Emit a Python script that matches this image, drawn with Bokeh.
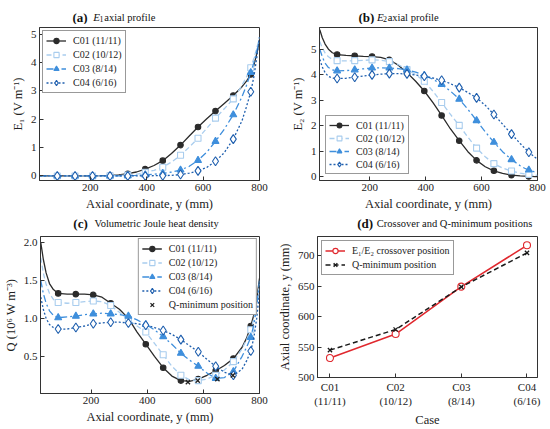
from bokeh.plotting import figure
from bokeh.models import Label, Legend, LegendItem, FixedTicker, Range1d
from bokeh.layouts import column, row
from bokeh.embed import file_html
from bokeh.resources import INLINE

SERIF = "Liberation Serif"

# ---------------- data ----------------
Y_LINE = [21, 30, 40, 52, 66, 83, 115, 146, 177, 208, 239, 270, 301, 333, 364, 395,
          426, 457, 488, 520, 551, 582, 613, 644, 675, 707, 738, 754, 769, 780, 790, 800]
Y_MARK = [83, 146, 208, 270, 333, 395, 457, 520, 582, 644, 707, 769]

CASES = ["C01 (11/11)", "C02 (10/12)", "C03 (8/14)", "C04 (6/16)"]

E1_C01 = [0, 0, 0, 0, 0, 0, 0, 0, 0, 0, 0.01, 0.02, 0.04, 0.08, 0.14, 0.24,
          0.37, 0.54, 0.79, 1.09, 1.41, 1.73, 2.02, 2.29, 2.56, 2.84, 3.15, 3.35, 3.58, 3.9, 4.3, 4.8]
E1_C02 = [0, 0, 0, 0, 0, 0, 0, 0, 0, 0, 0, 0.01, 0.02, 0.03, 0.06, 0.13,
          0.2, 0.31, 0.49, 0.73, 1.02, 1.33, 1.68, 2.04, 2.37, 2.72, 3.2, 3.5, 3.82, 4.15, 4.5, 4.9]
E1_C03 = [0, 0, 0, 0, 0, 0, 0, 0, 0, 0, 0, 0, 0, 0.01, 0.02, 0.04,
          0.06, 0.09, 0.14, 0.21, 0.34, 0.55, 0.84, 1.22, 1.65, 2.16, 2.8, 3.2, 3.65, 4.0, 4.4, 4.8]
E1_C04 = [0, 0, 0, 0, 0, 0, 0, 0, 0, 0, 0, 0, 0, 0, 0, 0,
          0.01, 0.01, 0.02, 0.05, 0.1, 0.18, 0.3, 0.52, 0.82, 1.3, 1.95, 2.45, 2.97, 3.5, 4.15, 4.9]

E2_C01 = [5.76, 5.45, 5.2, 5.0, 4.86, 4.79, 4.76, 4.74, 4.72, 4.71, 4.68, 4.58, 4.38, 4.08, 3.74, 3.36,
          2.9, 2.4, 1.88, 1.41, 0.98, 0.64, 0.39, 0.23, 0.13, 0.06, 0.03, 0.02, 0.01, 0.01, 0.0, 0.0]
E2_C02 = [5.3, 5.05, 4.85, 4.7, 4.6, 4.55, 4.54, 4.55, 4.56, 4.58, 4.57, 4.51, 4.4, 4.2, 4.0, 3.74,
          3.35, 2.91, 2.45, 2.01, 1.55, 1.12, 0.78, 0.51, 0.34, 0.22, 0.14, 0.11, 0.09, 0.07, 0.06, 0.05]
E2_C03 = [5.0, 4.7, 4.45, 4.28, 4.19, 4.15, 4.16, 4.19, 4.23, 4.26, 4.27, 4.26, 4.24, 4.19, 4.1, 3.97,
          3.82, 3.62, 3.36, 3.04, 2.64, 2.2, 1.76, 1.35, 0.98, 0.67, 0.43, 0.33, 0.26, 0.22, 0.19, 0.17]
E2_C04 = [4.6, 4.3, 4.08, 3.93, 3.87, 3.85, 3.86, 3.9, 3.95, 3.99, 4.02, 4.04, 4.04, 4.03, 3.99, 3.94,
          3.87, 3.78, 3.65, 3.49, 3.3, 3.09, 2.8, 2.44, 2.06, 1.67, 1.3, 1.12, 0.96, 0.86, 0.77, 0.69]

Q_C01 = [2.0, 1.78, 1.6, 1.46, 1.38, 1.33, 1.32, 1.32, 1.32, 1.31, 1.28, 1.2, 1.12, 1.0, 0.82, 0.66,
         0.5, 0.35, 0.24, 0.18, 0.17, 0.2, 0.25, 0.31, 0.38, 0.47, 0.62, 0.74, 0.9, 1.05, 1.25, 1.53]
Q_C02 = [1.8, 1.6, 1.45, 1.33, 1.25, 1.21, 1.2, 1.21, 1.22, 1.23, 1.22, 1.17, 1.08, 0.98, 0.9, 0.82,
         0.67, 0.52, 0.37, 0.25, 0.19, 0.18, 0.2, 0.25, 0.32, 0.43, 0.6, 0.72, 0.85, 1.0, 1.2, 1.45]
Q_C03 = [1.5, 1.33, 1.2, 1.1, 1.04, 1.01, 1.02, 1.03, 1.05, 1.06, 1.07, 1.06, 1.05, 1.03, 0.98, 0.92,
         0.85, 0.76, 0.66, 0.54, 0.45, 0.37, 0.28, 0.21, 0.22, 0.3, 0.5, 0.62, 0.75, 0.92, 1.15, 1.5]
Q_C04 = [1.28, 1.12, 1.0, 0.92, 0.88, 0.86, 0.86, 0.88, 0.9, 0.93, 0.94, 0.95, 0.95, 0.94, 0.93, 0.91,
         0.88, 0.84, 0.79, 0.72, 0.64, 0.56, 0.46, 0.37, 0.29, 0.25, 0.33, 0.44, 0.57, 0.75, 1.0, 1.35]

QMIN_Y = [545, 580, 650, 705]
QMIN_Q = [0.16, 0.18, 0.20, 0.25]

CASE_POS = [0, 1, 2, 3]
CASE_TICKS = ["C01\n(11/11)", "C02\n(10/12)", "C03\n(8/14)", "C04\n(6/16)"]
CROSSOVER = [532, 571.5, 649.5, 717.5]
QMIN_POS = [545, 579, 649, 705]

STYLES = [
    dict(color="#2b2b2b", dash="solid", marker="circle", size=5.5, fill="#2b2b2b"),
    dict(color="#a9cdee", dash="5 3", marker="square", size=6, fill="white"),
    dict(color="#3f8fdc", dash="7 3 2 3", marker="triangle", size=7, fill="#3f8fdc"),
    dict(color="#1f5fae", dash="2 2", marker="diamond", size=9, fill="white"),
]

AX = "#333333"


def make_fig(w, h, bl, br, bt, bb, xr, yr):
    p = figure(width=w, height=h, x_range=Range1d(*xr), y_range=Range1d(*yr),
               output_backend="svg", toolbar_location=None,
               min_border_left=bl, min_border_right=br, min_border_top=bt, min_border_bottom=bb)
    p.xgrid.visible = False
    p.ygrid.visible = False
    p.outline_line_color = AX
    p.outline_line_alpha = 1
    p.outline_line_width = 1
    for ax in (p.xaxis[0], p.yaxis[0]):
        ax.axis_line_color = AX
        ax.major_tick_line_color = AX
        ax.major_tick_in = 4
        ax.major_tick_out = 0
        ax.minor_tick_line_color = None
        ax.major_label_text_font = SERIF
        ax.major_label_text_font_size = "11px"
        ax.major_label_text_color = "#222222"
        ax.major_label_standoff = 3
        ax.axis_label_text_font = SERIF
        ax.axis_label_text_font_size = "12.5px"
        ax.axis_label_text_font_style = "normal"
        ax.axis_label_text_color = "#222222"
        ax.axis_label_standoff = 3
    return p


def title_strip(w, h, parts):
    """A thin figure holding the panel heading; x/y in pixels from its bottom-left."""
    s = figure(width=w, height=h, x_range=Range1d(0, w), y_range=Range1d(0, h),
               output_backend="svg", toolbar_location=None, title=None,
               x_axis_type=None, y_axis_type=None,
               min_border_left=0, min_border_right=0, min_border_top=0, min_border_bottom=0)
    s.xgrid.visible = False
    s.ygrid.visible = False
    s.outline_line_color = None
    for (txt, x, y, size, style) in parts:
        s.add_layout(Label(x=x, y=y, text=txt, text_font=SERIF, text_font_size=size,
                           text_font_style=style, text_color="#111111", text_baseline="alphabetic"))
    return s


def add_series(p, ys, st):
    lr = p.line(Y_LINE, ys, line_color=st["color"], line_width=1.3, line_dash=st["dash"])
    mx = [x for x in Y_LINE if x in Y_MARK]
    my = [v for x, v in zip(Y_LINE, ys) if x in Y_MARK]
    sr = p.scatter(mx, my, marker=st["marker"], size=st["size"], line_color=st["color"],
                   fill_color=st["fill"], line_width=1.1)
    return [lr, sr]


def make_legend(items, loc, margin, lh=13):
    lg = Legend(items=items, location=loc)
    lg.border_line_color = AX
    lg.border_line_width = 1
    lg.background_fill_color = "white"
    lg.background_fill_alpha = 1
    lg.label_text_font = SERIF
    lg.label_text_font_size = "10px"
    lg.label_text_color = "#222222"
    lg.label_height = lh
    lg.glyph_height = lh
    lg.glyph_width = 20
    lg.spacing = 1
    lg.padding = 3
    lg.label_standoff = 7
    lg.margin = margin
    return lg


XR = (20, 800)
XTICKS = [200, 400, 600, 800]

# ---------------- (a) ----------------
pa = make_fig(270, 189, 39, 11, 3, 30, XR, (-0.16, 5.24))
pa.xaxis.ticker = FixedTicker(ticks=XTICKS)
pa.yaxis.ticker = FixedTicker(ticks=[0, 1, 2, 3, 4, 5])
pa.xaxis.axis_label = "Axial coordinate, y (mm)"
pa.yaxis.axis_label = "E\u2081 (V m\u207b\u00b9)"
items = []
for name, ys, st in zip(CASES, [E1_C01, E1_C02, E1_C03, E1_C04], STYLES):
    items.append(LegendItem(label=name, renderers=add_series(pa, ys, st)))
pa.add_layout(make_legend(items, "top_left", 3))
sa = title_strip(270, 24, [("(a)", 40.5, 7.5, "13px", "bold"),
                           ("E", 66, 7.5, "11px", "italic"),
                           ("1", 73.5, 5.5, "8px", "normal"),
                           ("axial profile", 79.5, 7.5, "10.5px", "normal")])

# ---------------- (b) ----------------
pb = make_fig(280, 189, 49, 13, 3, 30, XR, (-0.15, 5.85))
pb.xaxis.ticker = FixedTicker(ticks=XTICKS)
pb.yaxis.ticker = FixedTicker(ticks=[0, 1, 2, 3, 4, 5])
pb.xaxis.axis_label = "Axial coordinate, y (mm)"
pb.yaxis.axis_label = "E\u2082 (V m\u207b\u00b9)"
items = []
for name, ys, st in zip(CASES, [E2_C01, E2_C02, E2_C03, E2_C04], STYLES):
    items.append(LegendItem(label=name, renderers=add_series(pb, ys, st)))
pb.add_layout(make_legend(items, "bottom_left", 6, lh=12))
sb = title_strip(280, 24, [("(b)", 50, 7.5, "13px", "bold"),
                           ("E", 74, 7.5, "11px", "italic"),
                           ("2", 81.5, 5.5, "8px", "normal"),
                           ("axial profile", 87.5, 7.5, "10.5px", "normal")])

# ---------------- (c) ----------------
pc = make_fig(270, 196, 39, 11, 3, 36, XR, (0.01, 2.08))
pc.xaxis.ticker = FixedTicker(ticks=XTICKS)
pc.yaxis.ticker = FixedTicker(ticks=[0.5, 1.0, 1.5, 2.0])
pc.yaxis.major_label_overrides = {0.5: "0.5", 1.0: "1.0", 1.5: "1.5", 2.0: "2.0"}
pc.xaxis.axis_label = "Axial coordinate, y (mm)"
pc.yaxis.axis_label = "Q (10\u2076 W m\u207b\u00b3)"
items = []
for name, ys, st in zip(CASES, [Q_C01, Q_C02, Q_C03, Q_C04], STYLES):
    items.append(LegendItem(label=name, renderers=add_series(pc, ys, st)))
qr = pc.scatter(QMIN_Y, QMIN_Q, marker="x", size=6, line_color="#222222", line_width=1.3)
items.append(LegendItem(label="Q-minimum position", renderers=[qr]))
pc.add_layout(make_legend(items, "top_right", 2))
sc = title_strip(270, 20, [("(c)", 40.5, 10, "13px", "bold"),
                           ("Volumetric Joule heat density", 66.5, 10, "10.5px", "normal")])

# ---------------- (d) ----------------
pd_ = make_fig(280, 196, 47, 13, 3, 39, (-0.19, 3.16), (500, 732))
pd_.xaxis.ticker = FixedTicker(ticks=CASE_POS)
pd_.xaxis.major_label_overrides = {i: t for i, t in zip(CASE_POS, CASE_TICKS)}
pd_.yaxis.ticker = FixedTicker(ticks=[500, 550, 600, 650, 700])
pd_.xaxis.axis_label = "Case"
pd_.yaxis.axis_label = "Axial coordinate, y (mm)"
l1 = pd_.line(CASE_POS, CROSSOVER, line_color="#e0282e", line_width=1.5)
s1 = pd_.scatter(CASE_POS, CROSSOVER, marker="circle", size=7, line_color="#e0282e",
                 fill_color="white", line_width=1.1)
l2 = pd_.line(CASE_POS, QMIN_POS, line_color="#1a1a1a", line_width=1.5, line_dash="5 3")
s2 = pd_.scatter(CASE_POS, QMIN_POS, marker="x", size=6, line_color="#1a1a1a", line_width=1.3)
lgd = make_legend([LegendItem(label="E\u2081/E\u2082 crossover position", renderers=[l1, s1]),
                   LegendItem(label="Q-minimum position", renderers=[l2, s2])], "top_left", 4)
pd_.add_layout(lgd)
sd = title_strip(280, 20, [("(d)", 50.5, 10, "13px", "bold"),
                           ("Crossover and Q-minimum positions", 75.5, 10, "10.5px", "normal")])

layout = column(row(column(sa, pa), column(sb, pb)),
                row(column(sc, pc), column(sd, pd_)))

open("out.html", "w").write(file_html(layout, INLINE))
